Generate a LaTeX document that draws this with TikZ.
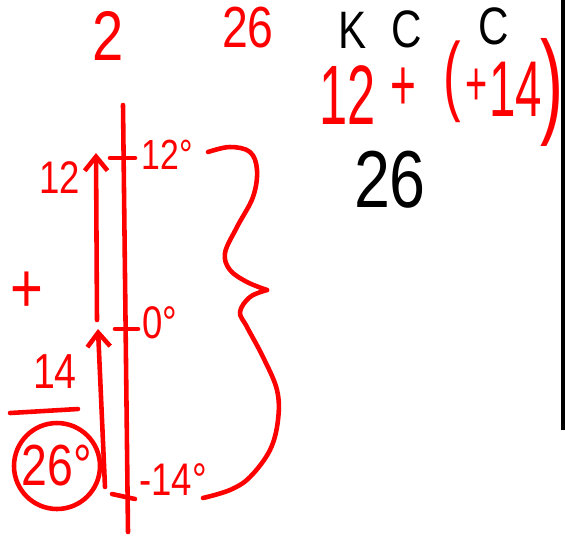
\documentclass[tikz,border=0pt]{standalone}
\usepackage{fontspec}
\setmainfont{Liberation Sans}[FakeStretch=0.8]
\newfontfamily\narrow{Liberation Sans}[FakeStretch=0.6]
\usetikzlibrary{arrows.meta}
\definecolor{ink}{HTML}{FF0000}
\definecolor{pen}{HTML}{000000}
\newcommand{\fs}[1]{\fontsize{#1}{#1}\selectfont}

\begin{document}
\begin{tikzpicture}[x=0.02cm, y=-0.02cm,
      txt/.style={inner sep=0pt, text=ink},
      blk/.style={inner sep=0pt, text=pen},
      stroke/.style={ink, line width=2.6pt, line cap=round, line join=round},
      arr/.style={stroke, -{Straight Barb[length=8pt, width=13pt]}}]
    \useasboundingbox (0,0) rectangle (565,535);
    % heading and the sum
    \node[txt, font=\fs{40}] (two) at (108,36) {2};
    \node[txt, font=\fs{33}] (tsix) at (248,28) {26};
    \node[blk, font=\fs{30}] (kel) at (353,30) {K};
    \node[blk, font=\fs{30}] (cel) at (407,29) {C};
    \node[blk, font=\fs{30}] (celb) at (494,26) {C};
    \node[txt, font=\narrow\fs{48}] (sum) at (348,95) {12};
    \node[txt, font=\narrow\fs{42}] (plus) at (403,89) {+};
    \node[txt, font=\narrow\fs{50}] (lp) at (452,82) {(};
    \node[txt, font=\narrow\fs{36}] (plusb) at (477,87) {+};
    \node[txt, font=\narrow\fs{45}] (four) at (516,89) {14};
    \node[txt, font=\narrow\fs{66}] (rp) at (552,92) {)};
    \node[blk, font=\fs{46}] (res) at (390,180) {26};
    \draw[pen, line width=2.4pt] (563,0) -- (563,430);
    % number line
    \coordinate (top) at (123,105);
    \coordinate (bot) at (128,532);
    \draw[stroke] (top) -- (bot);
    \draw[stroke] (110,158) -- (135,158);
    \draw[stroke] (115,329) -- (138,329);
    \draw[stroke] (112,494) -- (135,499);
    \node[txt, font=\fs{24}] (ltw) at (167,155) {12°};
    \node[txt, font=\fs{26}] (lz) at (160,323) {0°};
    \node[txt, font=\fs{26}] (lm) at (173,480) {-14°};
    % jumps
    \coordinate (s12) at (97,320);
    \coordinate (a12) at (96,153);
    \coordinate (b0) at (105,487);
    \coordinate (a0) at (98,329);
    \draw[arr] (s12) -- (a12);
    \draw[arr] (b0) -- (a0);
    \node[txt, font=\fs{26}] (n12) at (60,178) {12};
    \node[txt, font=\fs{40}] (np) at (27,292) {+};
    \node[txt, font=\fs{28}] (n14) at (55,372) {14};
    \draw[stroke] (10,413) -- (78,409);
    \node[txt, font=\fs{33}, draw=ink, circle, line width=2.6pt, minimum size=1.72cm] (ans) at (57,466) {26°};
    % brace
    \draw[stroke] plot[smooth, tension=0.6] coordinates {(208,152) (230,147) (250,152) (257,170) (253,197) (237,227) (225,253) (230,270) (247,282) (267,290)};
    \draw[stroke] plot[smooth, tension=0.6] coordinates {(267,290) (250,297) (240,312) (247,327) (263,357) (277,390) (278,420) (270,450) (250,477) (230,490) (203,498)};
  \end{tikzpicture}
\end{document}
